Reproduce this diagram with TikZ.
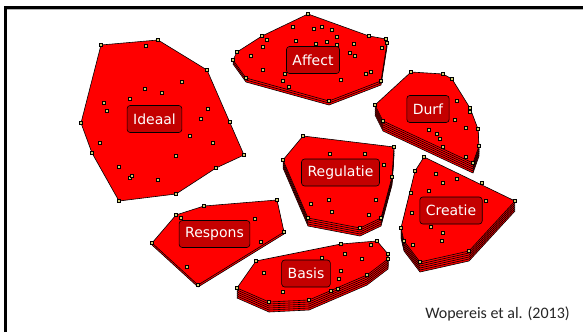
\documentclass[tikz,border=0pt]{standalone}
\usepackage{fontspec}
\newfontfamily\lblfont{DejaVu Sans}
\newfontfamily\citefont{Carlito}
\usepackage{tikz}
\definecolor{lblred}{RGB}{196,0,0}
\definecolor{dotfill}{RGB}{208,204,112}
\newcommand{\plate}[2]{%
  \foreach \k in {#1,...,0} {\filldraw[plate,shift={(0,2*\k)}] #2;}}
\newcommand{\pts}[1]{\foreach \x/\y in {#1} {\node[pt] at (\x,\y) {};}}

\begin{document}
\begin{tikzpicture}[x=1pt,y=-1pt,
    plate/.style={fill=red,draw=black,line width=0.6pt,line join=round},
    pt/.style={rectangle,draw=black,fill=dotfill,line width=0.5pt,inner sep=0pt,minimum size=2.8pt},
    lbl/.style={rectangle,rounded corners=3pt,draw=black,fill=lblred,line width=0.6pt,text=white,
      font=\lblfont\fontsize{14}{16}\selectfont,inner xsep=6pt,minimum height=27pt}]
      \useasboundingbox (0,0) rectangle (583,332);
      \fill[white] (0,0) rectangle (583,332);
      \draw[gray!60,line width=1pt] (7,9.8) -- (583,9.8);
      \draw[black,line width=3pt] (5.5,332) -- (5.5,7.5) -- (583,7.5);

      \plate{0}{(101,45) -- (158,40) -- (207,70) -- (244,155) -- (216,168) -- (176,194) -- (119,201) -- (92,153) -- (81,123) -- cycle}
      \pts{101/45,158/40,207/70,230/122,244/155,216/168,176/194,119/201,92/153,81/123,
        146/46,182/82,145/89,162/93,130/99,104/103,107/111,208/109,201/119,190/136,213/143,
        100/143,176/156,119/167,130/178,132/176,158/180}

      \plate{2}{(308,14) -- (369,36) -- (386,39) -- (387,43) -- (381,81) -- (329,101) -- (246,78) -- (233,60) -- (237,52) -- (262,36) -- cycle}
      \pts{308/14,369/36,386/39,387/43,381/81,329/101,246/78,233/60,237/52,262/36,
        293/27,314/29,322/27,332/30,337/37,267/40,263/47,296/41,316/44,327/42,337/45,
        354/44,350/53,355/56,251/56,263/70,285/74,283/81,289/87,341/80,366/74,371/72,382/48}

      \plate{5}{(411,72) -- (443,74) -- (452,79) -- (470,108) -- (478,129) -- (479,146) -- (473,163) -- (383,121) -- (375,105) -- cycle}
      \pts{411/72,443/74,452/79,470/108,478/129,479/146,473/163,383/121,375/105,
        457/101,470/112,455/120,466/128,429/130,437/134,440/139,443/147,466/157}

      \plate{4}{(303,136) -- (394,147) -- (392,177) -- (381,218) -- (360,228) -- (308,218) -- (283,160) -- cycle}
      \pts{303/136,394/147,392/177,381/218,360/228,308/218,283/160,
        330/154,365/154,384/165,311/204,329/200,332/212,376/200,369/215}

      \plate{5}{(424,157) -- (515,201) -- (469,251) -- (420,262) -- (404,241) -- (401,228) -- (415,171) -- cycle}
      \pts{424/157,515/201,469/251,420/262,404/241,401/228,415/171,
        436/174,443/183,457/179,429/191,411/193,412/213,431/227,443/233,442/241,413/245,482/183,486/201}

      \plate{1}{(176,215) -- (204,206) -- (277,200) -- (284,232) -- (198,285) -- (152,243) -- cycle}
      \pts{176/215,204/206,277/200,284/232,198/285,152/243,181/218,255/219,261/242,187/267}

      \plate{5}{(256,261) -- (341,244) -- (377,241) -- (388,254) -- (388,259) -- (367,275) -- (309,300) -- (269,302) -- (237,288) -- cycle}
      \pts{256/261,341/244,377/241,388/254,388/259,367/275,309/300,269/302,237/288,
        264/273,322/258,345/254,362/259,371/245,341/271,339/279,338/289,331/291,283/292}

      \node[lbl] (ideaal) at (154.5,119) {Ideaal};
      \node[lbl] (affect) at (313,60) {Affect};
      \node[lbl] (durf) at (428,109) {Durf};
      \node[lbl] (regulatie) at (340.5,172.5) {Regulatie};
      \node[lbl] (creatie) at (451,210.5) {Creatie};
      \node[lbl] (respons) at (214.5,234) {Respons};
      \node[lbl] (basis) at (306,273.5) {Basis};
      \node[text=black!85,font=\citefont\fontsize{16}{19}\selectfont] (bron) at (497.5,314) {Wopereis et al. (2013)};
\end{tikzpicture}
\end{document}
